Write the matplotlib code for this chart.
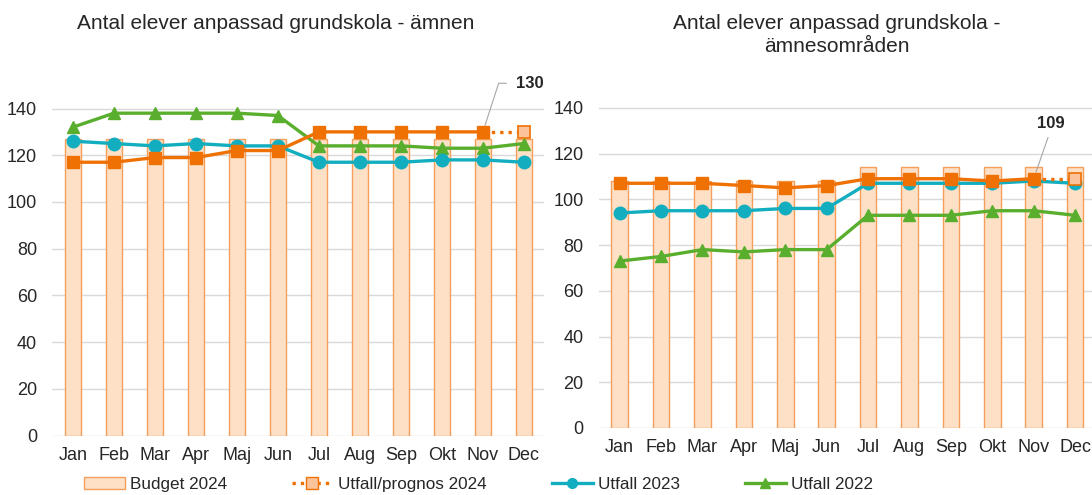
import matplotlib.pyplot as plt
from matplotlib.lines import Line2D
from matplotlib.patches import Patch

plt.rcParams['font.family'] = ['Liberation Sans', 'DejaVu Sans']

months = ['Jan', 'Feb', 'Mar', 'Apr', 'Maj', 'Jun', 'Jul', 'Aug', 'Sep', 'Okt', 'Nov', 'Dec']

# left chart: ämnen
budget_amnen = [127] * 12
prognos_amnen = [117, 117, 119, 119, 122, 122, 130, 130, 130, 130, 130, 130]
utfall23_amnen = [126, 125, 124, 125, 124, 124, 117, 117, 117, 118, 118, 117]
utfall22_amnen = [132, 138, 138, 138, 138, 137, 124, 124, 124, 123, 123, 125]

# right chart: ämnesområden
budget_omr = [108, 108, 108, 108, 108, 108, 114, 114, 114, 114, 114, 114]
prognos_omr = [107, 107, 107, 106, 105, 106, 109, 109, 109, 108, 109, 109]
utfall23_omr = [94, 95, 95, 95, 96, 96, 107, 107, 107, 107, 108, 107]
utfall22_omr = [73, 75, 78, 77, 78, 78, 93, 93, 93, 95, 95, 93]

n_actual = 11  # Jan-Nov utfall, Dec prognos

ORANGE = '#EF7104'
TEAL = '#12AEBF'
GREEN = '#5AAE2E'
BAR_FILL = '#FDE0C6'
BAR_EDGE = '#F4A05C'
FC_FILL = '#FBC39A'
TXT = '#262626'


def draw(ax, budget, prognos, u23, u22, lab):
    x = list(range(12))
    ax.bar(x, budget, width=0.4, color=BAR_FILL, edgecolor=BAR_EDGE, linewidth=1.0, zorder=2)
    ax.plot(x, u22, color=GREEN, lw=2.4, marker='^', ms=9, zorder=3)
    ax.plot(x, u23, color=TEAL, lw=2.4, marker='o', ms=9, zorder=4)
    ax.plot(x[n_actual - 1:], prognos[n_actual - 1:], color=ORANGE, lw=2.4, ls=(0, (1, 1.5)), zorder=5)
    ax.plot(x[:n_actual], prognos[:n_actual], color=ORANGE, lw=2.4, marker='s', ms=9, zorder=6)
    ax.plot(x[-1], prognos[-1], ls='none', marker='s', ms=9, mfc=FC_FILL, mec=ORANGE, mew=1.2, zorder=6)

    ax.set_xlim(-0.5, 11.5)
    ax.set_ylim(0, 150)
    ax.set_yticks(range(0, 141, 20))
    ax.set_xticks(x)
    ax.set_xticklabels(months)
    ax.yaxis.grid(True, color='#D9D9D9', lw=1.0, zorder=0)
    ax.set_axisbelow(True)
    for s in ax.spines.values():
        s.set_visible(False)
    ax.tick_params(length=0, labelsize=13, colors=TXT)
    ax.tick_params(axis='y', pad=11)
    ax.tick_params(axis='x', pad=8)

    # data label for the prognos value, placed above Nov with a leader line
    ax.annotate(str(prognos[-1]), xy=(10, prognos[10]), xytext=lab['off'],
                textcoords='offset points', fontsize=12, fontweight='bold',
                ha=lab['ha'], va='center', color=TXT, annotation_clip=False,
                arrowprops=dict(arrowstyle='-', color='#A6A6A6', lw=0.8,
                                shrinkA=lab['shrink'], shrinkB=5,
                                connectionstyle=lab['conn'], relpos=lab['rel']))


fig = plt.figure(figsize=(10.92, 4.95), dpi=100)

ax1 = fig.add_axes([0.048, 0.120, 0.4505, 0.708])
draw(ax1, budget_amnen, prognos_amnen, utfall23_amnen, utfall22_amnen,
     dict(off=(24, 35), ha='left', conn='angle,angleA=0,angleB=72,rad=0', rel=(0, 0.5), shrink=5))

ax2 = fig.add_axes([0.5485, 0.1354, 0.455, 0.693])
draw(ax2, budget_omr, prognos_omr, utfall23_omr, utfall22_omr,
     dict(off=(12, 40), ha='center', conn='arc3', rel=(0.5, 0), shrink=3))

fig.text(0.2525, 0.953, 'Antal elever anpassad grundskola - ämnen', ha='center', va='center',
         fontsize=15, color=TXT)
fig.text(0.7665, 0.929, 'Antal elever anpassad grundskola -\nämnesområden', ha='center', va='center',
         fontsize=15, color=TXT, linespacing=1.3)

handles = [
    Patch(facecolor=BAR_FILL, edgecolor=BAR_EDGE, lw=1.0),
    Line2D([], [], color=ORANGE, lw=2.4, ls=(0, (1, 1.5)), marker='s', ms=8, mfc=FC_FILL, mec=ORANGE),
    Line2D([], [], color=TEAL, lw=2.4, marker='o', ms=7),
    Line2D([], [], color=GREEN, lw=2.4, marker='^', ms=7),
]
labels = ['Budget 2024', 'Utfall/prognos 2024', 'Utfall 2023', 'Utfall 2022']
fig.legend(handles, labels, loc='center', bbox_to_anchor=(0.438, 0.022), ncol=4, frameon=False,
           fontsize=12.3, handlelength=2.4, handleheight=0.7, handletextpad=0.3,
           columnspacing=3.8, labelcolor=TXT)

fig.savefig('out.png', dpi=100)
